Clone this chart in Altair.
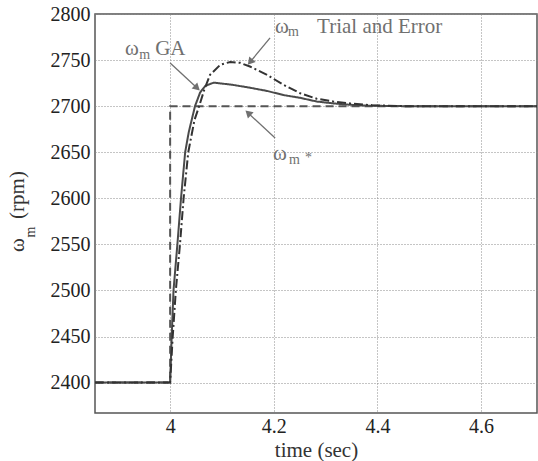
import math
import altair as alt
import pandas as pd

# ---------------- data ----------------
ga_t = [3.855, 4.0, 4.003, 4.0065, 4.014, 4.021, 4.029, 4.036, 4.042, 4.048, 4.058,
        4.068, 4.084, 4.1, 4.122, 4.154, 4.187, 4.219, 4.251, 4.283, 4.315, 4.347,
        4.38, 4.45, 4.708]
ga_v = [2400, 2400, 2450, 2500, 2550, 2600, 2650, 2672, 2686, 2700, 2715,
        2722, 2725.5, 2724.5, 2723, 2720, 2716.5, 2712, 2709, 2705, 2703, 2701.5,
        2700.5, 2700, 2700]

te_t = [3.855, 4.0, 4.005, 4.011, 4.019, 4.026, 4.035, 4.047, 4.056, 4.066, 4.077,
        4.097, 4.116, 4.135, 4.154, 4.187, 4.219, 4.251, 4.283, 4.315, 4.347, 4.39,
        4.45, 4.708]
te_v = [2400, 2400, 2450, 2500, 2550, 2600, 2650, 2685, 2700, 2718, 2734,
        2745, 2748, 2747, 2743, 2734, 2723, 2714, 2708, 2705, 2703, 2701,
        2700, 2700]

ref_t = [3.855, 4.0, 4.0, 4.708]
ref_v = [2400, 2400, 2700, 2700]

series_names = ["ref", "GA", "TE"]

x_ticks = [4.0, 4.2, 4.4, 4.6]
y_ticks = [2400, 2450, 2500, 2550, 2600, 2650, 2700, 2750, 2800]

# annotation text pieces (time, value)
ann_text = ["ω", "m", "GA", "ω", "m", "Trial and Error", "ω", "m", "*"]
ann_t = [3.9131, 3.9402, 3.9711, 4.2026, 4.2277, 4.2836, 4.1987, 4.2296, 4.2605]
ann_v = [2755.5, 2751.2, 2755.5, 2779.4, 2775.6, 2779.4, 2641.6, 2637.2, 2639.4]
ann_small = [False, True, False, False, True, False, False, True, True]

# arrows: from (t1, v1) to (t2, v2)
arr_t1 = [4.0, 4.1929, 4.2026]
arr_v1 = [2746.8, 2774.0, 2665.4]
arr_t2 = [4.0521, 4.1544, 4.1505]
arr_v2 = [2719.7, 2747.9, 2692.6]

# ---------------- layout / style ----------------
W, H = 442, 399
XMIN, XMAX = 3.855, 4.708
YMIN, YMAX = 2367, 2800
FONT = "Liberation Serif"
ANN_COL = "#707070"

xs = alt.Scale(domain=[XMIN, XMAX], nice=False, zero=False)
ys = alt.Scale(domain=[YMIN, YMAX], nice=False, zero=False)

rows = []
for name, ts, vs in [("ref", ref_t, ref_v), ("GA", ga_t, ga_v), ("TE", te_t, te_v)]:
    for i, (t, v) in enumerate(zip(ts, vs)):
        rows.append({"series": name, "t": t, "v": v, "idx": i})
df = pd.DataFrame(rows)

axis_common = dict(
    domain=False, ticks=False, grid=True, gridColor="#8a8a8a", gridDash=[1, 2],
    gridWidth=1, labelFont=FONT, labelFontSize=20, labelColor="#222222",
    titleFont=FONT, titleFontSize=21, titleColor="#333333", titleFontWeight="normal",
)

lines = alt.Chart(df).mark_line(clip=True, strokeWidth=2).encode(
    x=alt.X("t:Q", scale=xs,
            axis=alt.Axis(values=x_ticks, format="~g", title="time (sec)",
                          labelPadding=3, titlePadding=3, **axis_common)),
    y=alt.Y("v:Q", scale=ys,
            axis=alt.Axis(values=y_ticks, format="d", title="",
                          labelPadding=5, **axis_common)),
    order="idx:Q",
    detail="series:N",
    color=alt.Color("series:N", scale=alt.Scale(domain=series_names,
                    range=["#555555", "#4a4a4a", "#333333"]), legend=None),
    strokeDash=alt.StrokeDash("series:N", scale=alt.Scale(domain=series_names,
                    range=[[8, 5], [1, 0], [9, 3, 2, 3]]), legend=None),
)

# arrows
pxx = W / (XMAX - XMIN)
pxy = H / (YMAX - YMIN)
angles = []
for a, b, c, d in zip(arr_t1, arr_v1, arr_t2, arr_v2):
    dx = (c - a) * pxx
    dy = -(d - b) * pxy
    angles.append(math.degrees(math.atan2(dx, -dy)) % 360)
adf = pd.DataFrame({"t1": arr_t1, "v1": arr_v1, "t2": arr_t2, "v2": arr_v2,
                    "ang": angles})
arrow_lines = alt.Chart(adf).mark_rule(color=ANN_COL, strokeWidth=1.3).encode(
    x=alt.X("t1:Q", scale=xs), y=alt.Y("v1:Q", scale=ys),
    x2="t2:Q", y2="v2:Q",
)
arrow_heads = alt.Chart(adf).mark_point(shape="triangle-up", filled=True,
                                        color=ANN_COL, size=70, opacity=1).encode(
    x=alt.X("t2:Q", scale=xs), y=alt.Y("v2:Q", scale=ys),
    angle=alt.Angle("ang:Q", scale=None),
)

# annotation text
tdf = pd.DataFrame({"t": ann_t, "v": ann_v, "text": ann_text,
                    "fs": [14 if s else 21 for s in ann_small]})
ann = alt.Chart(tdf).mark_text(align="left", baseline="alphabetic", font=FONT,
                               color=ANN_COL).encode(
    x=alt.X("t:Q", scale=xs), y=alt.Y("v:Q", scale=ys),
    text="text:N", size=alt.Size("fs:Q", scale=None),
)

# y axis title pieces (rotated)
ytitle_rpm = alt.Chart(pd.DataFrame({"a": [0]})).mark_text(
    text="(rpm)", angle=270, align="center", baseline="alphabetic",
    font=FONT, fontSize=21, color="#333333").encode(
    x=alt.value(-71), y=alt.value(181))
ytitle_w = alt.Chart(pd.DataFrame({"a": [0]})).mark_text(
    text="ω", angle=270, align="center", baseline="alphabetic",
    font=FONT, fontSize=21, color="#333333").encode(
    x=alt.value(-71), y=alt.value(231))
ytitle_m = alt.Chart(pd.DataFrame({"a": [0]})).mark_text(
    text="m", angle=270, align="center", baseline="alphabetic",
    font=FONT, fontSize=14, color="#333333").encode(
    x=alt.value(-60), y=alt.value(218))

chart = alt.layer(lines, arrow_lines, arrow_heads, ann,
                  ytitle_rpm, ytitle_w, ytitle_m).properties(
    width=W, height=H,
    autosize=alt.AutoSizeParams(type="none"),
    padding={"left": 95, "top": 14, "right": 1, "bottom": 48},
).configure_view(
    stroke="#555555", strokeWidth=1.5
)

chart.save("out.html", embed_options={"renderer": "svg", "actions": False})
